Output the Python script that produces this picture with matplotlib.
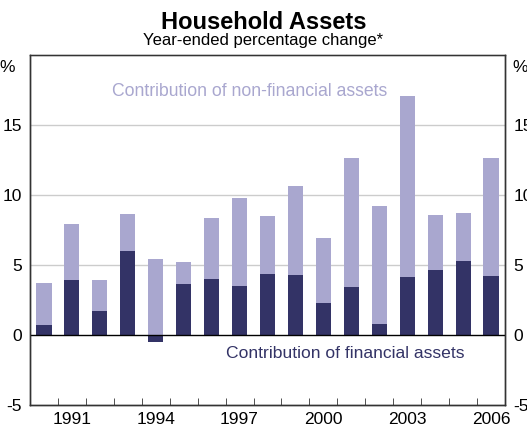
import numpy as np
import matplotlib.pyplot as plt

plt.rcParams['font.family'] = ['Liberation Sans', 'DejaVu Sans']
plt.rcParams['axes.unicode_minus'] = False

# 数据：年份，金融资产贡献，总变化
years = np.arange(1990, 2007)
financial = [0.74, 3.9, 1.74, 6.02, -0.52, 3.67, 4.02, 3.52, 4.38,
             4.31, 2.31, 3.45, 0.81, 4.17, 4.67, 5.31, 4.24]
total = [3.74, 7.9, 3.9, 8.67, 5.45, 5.24, 8.38, 9.81, 8.52,
         10.67, 6.95, 12.67, 9.24, 17.1, 8.6, 8.74, 12.67]
tick_years = [1991, 1994, 1997, 2000, 2003, 2006]
y_ticks = [-5, 0, 5, 10, 15]

fin = np.array(financial)
tot = np.array(total)
# 金融资产为负时，非金融资产从0开始画
base = np.where(fin > 0, fin, 0)
nonfin = tot - base

dark = '#333366'
light = '#a9a7cf'

fig = plt.figure(figsize=(5.27, 4.26), dpi=100)
ax = fig.add_axes([30 / 527, 21 / 426, 475 / 527, 350 / 426])

ax.bar(years, fin, width=0.54, color=dark, zorder=3)
ax.bar(years, nonfin, width=0.54, bottom=base, color=light, zorder=3)

ax.set_xlim(1989.5, 2006.5)
ax.set_ylim(-5, 20)

# 网格线和零线
for y in [5, 10, 15]:
    ax.axhline(y, color='#cccccc', lw=1, zorder=1)
ax.axhline(0, color='black', lw=1, zorder=4)

ax.set_yticks(y_ticks)
ax.tick_params(axis='y', length=0, pad=6, labelsize=12.5)
ax.set_xticks(tick_years)
ax.set_xticks(np.arange(1990.5, 2006.5, 1), minor=True)
ax.tick_params(axis='x', which='major', length=0, pad=5, labelsize=12.5)
ax.tick_params(axis='x', which='minor', direction='in', length=5, color='#333333')

ax2 = ax.twinx()
ax2.set_ylim(-5, 20)
ax2.set_yticks(y_ticks)
ax2.tick_params(axis='y', length=0, pad=6, labelsize=12.5)

for a in (ax, ax2):
    for s in a.spines.values():
        s.set_color('#333333')
        s.set_linewidth(1)
ax.spines['top'].set_color('#888888')

ax.text(-0.065, 0.985, '%', transform=ax.transAxes, ha='left', va='top', fontsize=12.5)
ax.text(1.015, 0.985, '%', transform=ax.transAxes, ha='left', va='top', fontsize=12.5)

ax.text(1997.35, 17.4, 'Contribution of non-financial assets', color=light,
        ha='center', va='center', fontsize=12.7)
ax.text(2000.8, -1.33, 'Contribution of financial assets', color=dark,
        ha='center', va='center', fontsize=12.6)

fig.text(0.5, 1 - 29 / 426, 'Household Assets', ha='center', va='baseline',
         fontsize=17, fontweight='bold')
fig.text(0.5, 1 - 45 / 426, 'Year-ended percentage change*', ha='center', va='baseline',
         fontsize=12)

fig.savefig('out.png', dpi=100)
